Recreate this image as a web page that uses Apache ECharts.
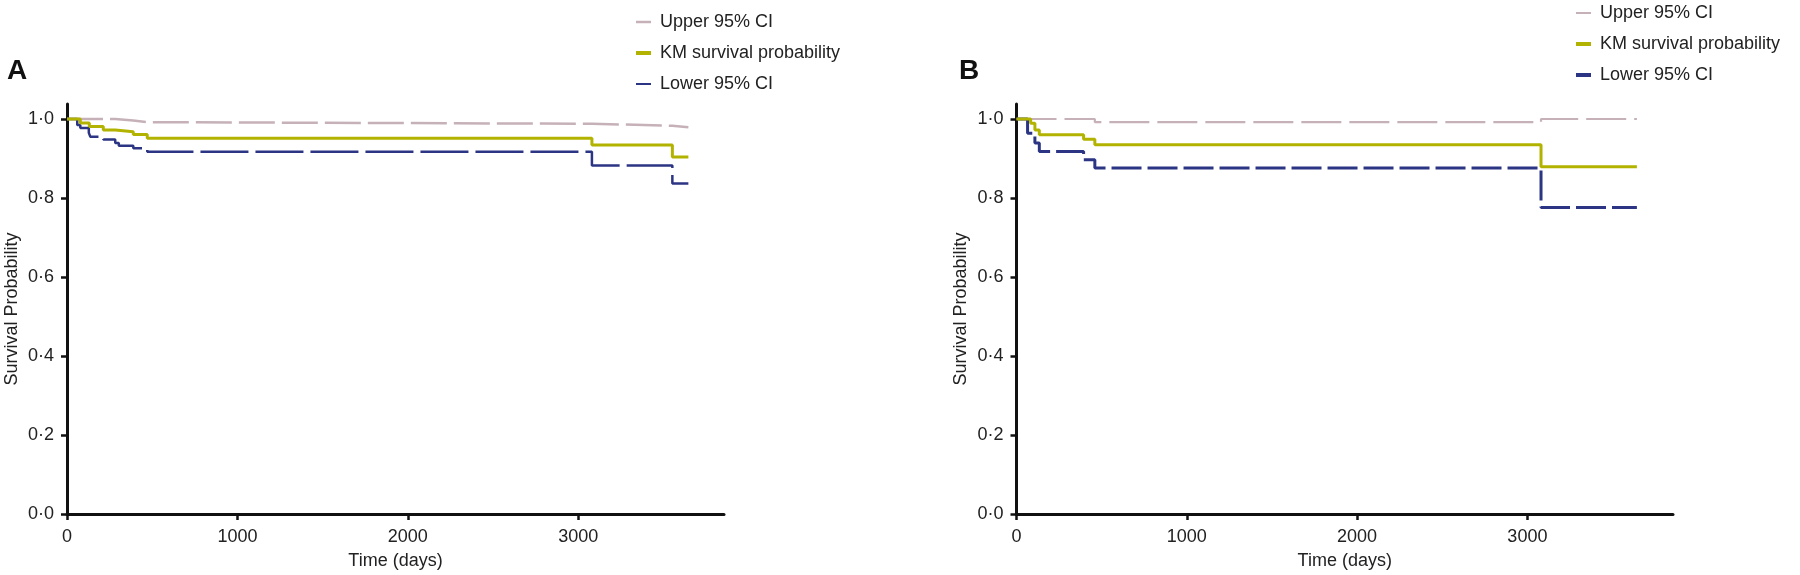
<!DOCTYPE html>
<html>
<head>
<meta charset="utf-8">
<script src="https://cdn.jsdelivr.net/npm/echarts@6/dist/echarts.min.js"></script>
<style>
  html, body { margin: 0; padding: 0; background: #ffffff; }
  #chart { width: 1800px; height: 575px; }
</style>
</head>
<body>
<div id="chart"></div>
<script>
// ---------- data ----------
const xTicks = [0, 1000, 2000, 3000];
const yTicks = [0, 0.2, 0.4, 0.6, 0.8, 1.0];
const seriesNames = ['Upper 95% CI', 'KM survival probability', 'Lower 95% CI'];

// Panel A
const timeA_upper = [0, 283, 389, 471, 3080, 3552, 3646];
const upperA      = [1.0, 0.996, 0.992, 0.988, 0.983, 0.979, 0.979];
const timeA_km    = [0, 78, 131, 213, 283, 389, 471, 3080, 3552, 3646];
const kmA         = [1.0, 0.990, 0.981, 0.972, 0.968, 0.961, 0.951, 0.934, 0.904, 0.904];
const timeA_lower = [0, 60, 78, 128, 137, 213, 283, 304, 389, 471, 3080, 3552, 3646];
const lowerA      = [1.0, 0.985, 0.977, 0.965, 0.955, 0.948, 0.939, 0.932, 0.926, 0.917, 0.882, 0.837, 0.837];

// Panel B
const timeB_upper = [0, 460, 3080, 3643];
const upperB      = [1.0, 0.992, 1.0, 1.0];
const timeB_km    = [0, 83, 108, 134, 394, 460, 3080, 3643];
const kmB         = [1.0, 0.989, 0.972, 0.960, 0.949, 0.935, 0.879, 0.879];
const timeB_lower = [0, 65, 108, 134, 394, 460, 3080, 3643];
const lowerB      = [1.0, 0.964, 0.939, 0.918, 0.897, 0.876, 0.776, 0.776];

// ---------- styling ----------
const FONT = 'Liberation Sans, Arial, sans-serif';
const C_UP = '#c6b1b9', C_KM = '#b2b300', C_LO = '#2b3584';
const pairs = (t, v) => t.map((x, i) => [x, v[i]]);
const yFmt = v => Number(v).toFixed(1).replace('.', '·');
const xFmt = v => String(Math.round(v));

function xAxis(idx) {
  return {
    type: 'value', gridIndex: idx, min: 0, max: 3855,
    name: 'Time (days)', nameLocation: 'middle', nameGap: 38,
    nameTextStyle: { fontFamily: FONT, fontSize: 18, color: '#222' },
    axisLine: { show: true, onZero: false, lineStyle: { color: '#111', width: 3 } },
    axisTick: { show: true, length: 6, customValues: xTicks, lineStyle: { color: '#111', width: 2.5 } },
    axisLabel: { customValues: xTicks, margin: 14, formatter: xFmt, fontFamily: FONT, fontSize: 18, color: '#222' },
    splitLine: { show: false }
  };
}
function yAxis(idx) {
  return {
    type: 'value', gridIndex: idx, min: 0, max: 1.038,
    name: 'Survival Probability', nameLocation: 'middle', nameGap: 46,
    nameTextStyle: { fontFamily: FONT, fontSize: 18, color: '#222' },
    axisLine: { show: true, onZero: false, lineStyle: { color: '#111', width: 3 } },
    axisTick: { show: true, length: 6, customValues: yTicks, lineStyle: { color: '#111', width: 2.5 } },
    axisLabel: { customValues: yTicks, margin: 13, formatter: yFmt, fontFamily: FONT, fontSize: 18, color: '#222' },
    splitLine: { show: false }
  };
}
function line(name, idx, data, color, width, dash) {
  return {
    type: 'line', name: name, xAxisIndex: idx, yAxisIndex: idx,
    data: data, step: 'end', showSymbol: false, symbol: 'none',
    color: color,
    lineStyle: { color: color, width: width, type: dash || 'solid' },
    emphasis: { disabled: true }, animation: false, z: name === seriesNames[1] ? 3 : 2
  };
}
function legend(left, top, icons) {
  return {
    orient: 'vertical', left: left, top: top, padding: 0,
    itemWidth: 15, itemHeight: 14, itemGap: 11, selectedMode: false,
    textStyle: { fontFamily: FONT, fontSize: 18, color: '#222', lineHeight: 20, padding: [0, 0, 0, 4] },
    data: [
      { name: seriesNames[0], icon: icons[0], itemStyle: { color: C_UP } },
      { name: seriesNames[1], icon: icons[1], itemStyle: { color: C_KM } },
      { name: seriesNames[2], icon: icons[2], itemStyle: { color: C_LO } }
    ]
  };
}

const chart = echarts.init(document.getElementById('chart'), null, { renderer: 'canvas' });
chart.setOption({
  backgroundColor: '#ffffff',
  animation: false,
  title: [
    { text: 'A', left: 7, top: 57, padding: 0, textStyle: { fontFamily: FONT, fontSize: 28, fontWeight: 'bold', color: '#111' } },
    { text: 'B', left: 959, top: 57, padding: 0, textStyle: { fontFamily: FONT, fontSize: 28, fontWeight: 'bold', color: '#111' } }
  ],
  legend: [
    legend(636, 12, ['path://M0,0H15V2.5H0Z', 'path://M0,0H15V4H0Z', 'path://M0,0H15V2H0Z']),
    legend(1576, 3, ['path://M0,0H15V2H0Z', 'path://M0,0H15V4H0Z', 'path://M0,0H15V4H0Z'])
  ],
  grid: [
    { left: 67, top: 104, width: 657, height: 412.7 },
    { left: 1016.5, top: 104, width: 656.5, height: 412.7 }
  ],
  xAxis: [xAxis(0), xAxis(1)],
  yAxis: [yAxis(0), yAxis(1)],
  series: [
    line(seriesNames[0], 0, pairs(timeA_upper, upperA), C_UP, 2.5, [36, 7]),
    line(seriesNames[1], 0, pairs(timeA_km, kmA), C_KM, 3),
    line(seriesNames[2], 0, pairs(timeA_lower, lowerA), C_LO, 2.5, [48, 7]),
    line(seriesNames[0], 1, pairs(timeB_upper, upperB), C_UP, 2.2, [40, 8]),
    line(seriesNames[1], 1, pairs(timeB_km, kmB), C_KM, 3),
    line(seriesNames[2], 1, pairs(timeB_lower, lowerB), C_LO, 3, [30, 6])
  ]
});
</script>
</body>
</html>
